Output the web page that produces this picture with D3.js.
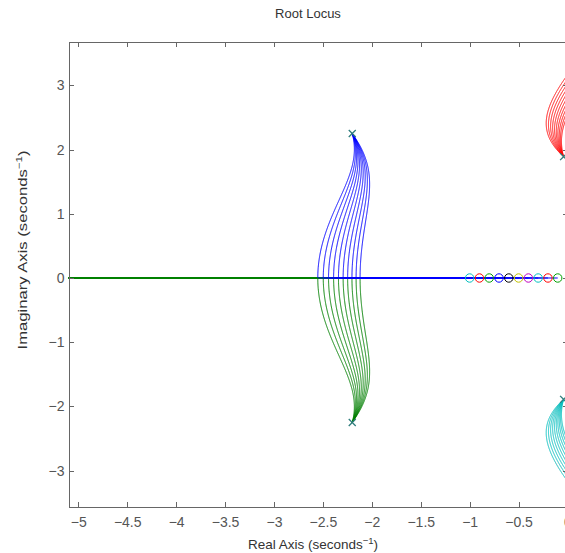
<!DOCTYPE html>
<html>
<head>
<meta charset="utf-8">
<script src="https://cdn.jsdelivr.net/npm/d3@7"></script>
<style>
  html, body { margin: 0; padding: 0; background: #fff; overflow: hidden; }
  svg { display: block; font-family: "Liberation Sans", Arial, Helvetica, sans-serif; }
  .axis path, .axis line { stroke: #666; shape-rendering: crispEdges; }
  .axis text { fill: #555; font-size: 14px; }
</style>
</head>
<body>
<svg id="chart" width="565" height="553"></svg>
<script>
// open loop poles, the same for every system (real, imag)
const poleRe = [-2.2, -2.2, -0.04, -0.04];
const poleIm = [2.25, -2.25, 1.89, -1.89];
// one real zero per system, read left to right along the real axis
const zeroRe = [-1.0, -0.9, -0.8, -0.7, -0.6, -0.5, -0.4, -0.3, -0.2, -0.1];
const zeroColors = ['#00bfbf', '#ff0000', '#00a000', '#0000ff', '#000000', '#bfbf00', '#bf00bf', '#00bfbf', '#ff0000', '#00a000'];
// branch colours in branch order
const branchColors = ['#0000ff', '#008000', '#ff0000', '#00bfbf'];
const xTicks = [-5, -4.5, -4, -3.5, -3, -2.5, -2, -1.5, -1, -0.5, 0];
const yTicks = [-3, -2, -1, 0, 1, 2, 3];

const box = {left: 68.5, right: 567.5, top: 42, bottom: 507};

var svg = d3.select('#chart');

var x = d3.scaleLinear().domain([-5.1, 0]).range([box.left, box.right]);
var y = d3.scaleLinear().domain([-3.567, 3.676]).range([box.bottom, box.top]);

// expand prod (s - p) into real coefficients, highest power first
function polyFromRoots(re, im) {
  var c = [[1, 0]];
  for (var k = 0; k < re.length; k++) {
    var out = [];
    for (var i = 0; i <= c.length; i++) out.push([0, 0]);
    for (var i = 0; i < c.length; i++) {
      out[i][0] += c[i][0];
      out[i][1] += c[i][1];
      out[i + 1][0] -= re[k] * c[i][0] - im[k] * c[i][1];
      out[i + 1][1] -= re[k] * c[i][1] + im[k] * c[i][0];
    }
    c = out;
  }
  return c.map(d => d[0]);
}

const den = polyFromRoots(poleRe, poleIm);

// characteristic polynomial den(s) + K (s - z)
function closedLoop(z, K) {
  var c = den.slice();
  c[c.length - 2] += K;
  c[c.length - 1] -= K * z;
  return c;
}

// Durand-Kerner on a monic polynomial
function solve(c) {
  var n = c.length - 1;
  var R = 1 + d3.max(c.slice(1), v => Math.abs(v));
  var zs = [];
  var w = [1, 0];
  for (var i = 0; i < n; i++) {
    zs.push([R * w[0], R * w[1]]);
    w = [w[0] * 0.4 - w[1] * 0.9, w[0] * 0.9 + w[1] * 0.4];
  }
  for (var it = 0; it < 1500; it++) {
    var move = 0;
    for (var i = 0; i < n; i++) {
      var zr = zs[i][0], zi = zs[i][1];
      var pr = 1, pi = 0;
      for (var k = 1; k <= n; k++) {
        var t = pr * zr - pi * zi + c[k];
        pi = pr * zi + pi * zr;
        pr = t;
      }
      var qr = 1, qi = 0;
      for (var j = 0; j < n; j++) {
        if (j === i) continue;
        var dr = zr - zs[j][0], di = zi - zs[j][1];
        var t2 = qr * dr - qi * di;
        qi = qr * di + qi * dr;
        qr = t2;
      }
      var m = qr * qr + qi * qi;
      if (m === 0) { qr = 1e-12; m = 1e-24; }
      var sr = (pr * qr + pi * qi) / m, si = (pi * qr - pr * qi) / m;
      zs[i] = [zr - sr, zi - si];
      move = Math.max(move, Math.abs(sr) + Math.abs(si));
    }
    if (move < 1e-15) break;
  }
  return zs;
}

// blue/green: left pole pair, red/cyan: right pole pair
function classify(rs) {
  var real = rs.filter(r => Math.abs(r[1]) < 1e-6).map(r => [r[0], 0]);
  var up = rs.filter(r => r[1] >= 1e-6).sort((a, b) => a[0] - b[0]);
  if (up.length === 2) return [up[0], [up[0][0], -up[0][1]], up[1], [up[1][0], -up[1][1]]];
  if (up.length === 1 && real.length === 2) {
    real.sort((a, b) => b[0] - a[0]);
    return [real[0], real[1], up[0], [up[0][0], -up[0][1]]];
  }
  return null;
}

function locus(z) {
  var branches = [[], [], [], []];
  var K = 0, h = 0.02;
  var prev = classify(solve(closedLoop(z, 0)));
  prev.forEach((p, i) => branches[i].push(p));
  var guard = 0;
  while (K < 5000 && guard++ < 200000) {
    var cur = classify(solve(closedLoop(z, K + h)));
    if (!cur) {
      if (h > 1e-11) { h /= 2; } else { K += h; }
      continue;
    }
    var d = d3.max(cur, (p, i) => Math.hypot(p[0] - prev[i][0], p[1] - prev[i][1]));
    if (d > 0.012 && h > 1e-11) { h /= 2; continue; }
    K += h;
    prev = cur;
    cur.forEach((p, i) => branches[i].push(p));
    if (d < 0.004) h *= 1.5;
    if (cur[1][0] < -5.4 && cur[2][1] > 3.9) break;
  }
  branches[0].push([z, 0]);
  return branches;
}

svg.append('defs').append('clipPath').attr('id', 'clip')
  .append('rect')
  .attr('x', box.left).attr('y', box.top)
  .attr('width', box.right - box.left).attr('height', box.bottom - box.top);

var plot = svg.append('g').attr('clip-path', 'url(#clip)');

var line = d3.line().x(d => x(d[0])).y(d => y(d[1]));

// the system with the leftmost zero is drawn last
var order = d3.range(zeroRe.length).reverse();
order.forEach(function(s) {
  var br = locus(zeroRe[s]);
  br.forEach(function(pts, b) {
    plot.append('path')
      .attr('d', line(pts))
      .attr('fill', 'none')
      .attr('stroke', branchColors[b])
      .attr('stroke-width', 1);
  });
});

// poles
poleRe.forEach(function(re, i) {
  var px = x(re), py = y(poleIm[i]), r = 3.5;
  plot.append('path')
    .attr('d', `M${px - r},${py - r}L${px + r},${py + r}M${px - r},${py + r}L${px + r},${py - r}`)
    .attr('stroke', '#2f7d7d')
    .attr('stroke-width', 1.3)
    .attr('fill', 'none');
});

// zeros
plot.selectAll('.zero')
  .data(zeroRe)
  .enter()
  .append('circle')
  .attr('class', 'zero')
  .attr('cx', d => x(d))
  .attr('cy', y(0))
  .attr('r', 4.2)
  .attr('fill', 'none')
  .attr('stroke', (d, i) => zeroColors[i])
  .attr('stroke-width', 1);

// axes with inward ticks on every side
svg.append('g').attr('class', 'axis')
  .attr('transform', `translate(0,${box.bottom})`)
  .call(d3.axisBottom(x).tickValues(xTicks).tickSizeInner(-5).tickSizeOuter(0).tickPadding(10).tickFormat(d3.format('')));
svg.append('g').attr('class', 'axis')
  .attr('transform', `translate(0,${box.top})`)
  .call(d3.axisTop(x).tickValues(xTicks).tickSizeInner(-5).tickSizeOuter(0).tickFormat(''));
svg.append('g').attr('class', 'axis')
  .attr('transform', `translate(${box.left},0)`)
  .call(d3.axisLeft(y).tickValues(yTicks).tickSizeInner(-5).tickSizeOuter(0).tickPadding(4).tickFormat(d3.format('')));
svg.append('g').attr('class', 'axis')
  .attr('transform', `translate(${box.right},0)`)
  .call(d3.axisRight(y).tickValues(yTicks).tickSizeInner(-5).tickSizeOuter(0).tickFormat(''));

svg.append('text')
  .attr('x', 308).attr('y', 18)
  .attr('text-anchor', 'middle')
  .attr('font-size', 13)
  .attr('fill', '#333')
  .text('Root Locus');

var xl = svg.append('text')
  .attr('x', 313).attr('y', 549)
  .attr('text-anchor', 'middle')
  .attr('font-size', 13.5)
  .attr('fill', '#333');
xl.append('tspan').text('Real Axis (seconds');
xl.append('tspan').attr('dy', -5).attr('font-size', 9.5).text('\u22121');
xl.append('tspan').attr('dy', 5).text(')');

var yl = svg.append('text')
  .attr('transform', 'translate(27,250) rotate(-90) scale(1.28,1)')
  .attr('text-anchor', 'middle')
  .attr('font-size', 13)
  .attr('fill', '#333');
yl.append('tspan').text('Imaginary Axis (seconds');
yl.append('tspan').attr('dy', -5).attr('font-size', 9).text('\u22121');
yl.append('tspan').attr('dy', 5).text(')');
</script>
</body>
</html>
